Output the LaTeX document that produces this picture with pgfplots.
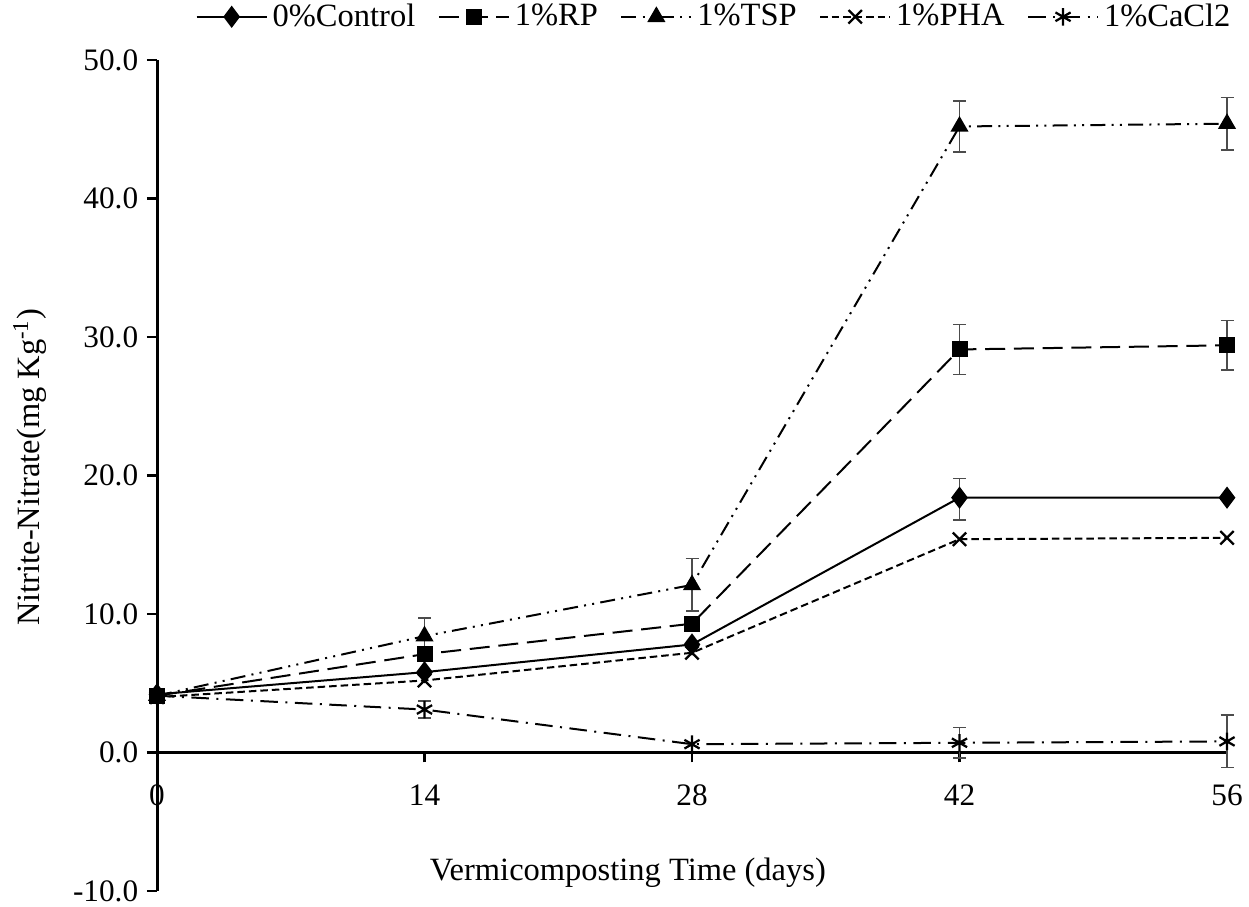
\documentclass[border=0pt]{standalone}
\usepackage{fontspec}
\setmainfont{Liberation Serif}
\usepackage{pgfplots}
\pgfplotsset{compat=1.18}
\usepackage{pgfplotstable}

\pgfplotstableread{
x y
0 4.2
14 5.8
28 7.8
42 18.4
56 18.4
}\control
\pgfplotstableread{
x y
0 4.1
14 7.1
28 9.3
42 29.1
56 29.4
}\rp
\pgfplotstableread{
x y
0 4.1
14 8.4
28 12.1
42 45.2
56 45.4
}\tsp
\pgfplotstableread{
x y
0 4.0
14 5.2
28 7.2
42 15.4
56 15.5
}\pha
\pgfplotstableread{
x y
0 4.1
14 3.1
28 0.6
42 0.7
56 0.8
}\cacl
\pgfplotstableread{
x y e
42 18.3 1.5
42 29.1 1.8
56 29.4 1.8
14 8.4 1.3
28 12.1 1.9
42 45.2 1.85
56 45.4 1.9
14 3.1 0.6
42 0.7 1.1
56 0.8 1.9
}\errs

\begin{document}
\begin{tikzpicture}[font=\fontsize{13}{15}\selectfont]
\begin{axis}[
  scale only axis, width=428pt, height=332.4pt,
  xmin=0, xmax=56, ymin=-10, ymax=50,
  axis lines=middle,
  axis line style={-, line width=1.2pt, black},
  clip=false,
  hide obscured x ticks=false, hide obscured y ticks=false,
  xtick={0,14,28,42,56}, ytick={-10,0,10,20,30,40,50},
  tick align=outside, major tick length=4pt,
  tick style={line width=1pt, black},
  /pgf/number format/assume math mode=true,
  tick label style={font=\fontsize{12.5}{14}\selectfont},
  yticklabel style={/pgf/number format/.cd, fixed, fixed zerofill, precision=1},
  xticklabel style={yshift=-5.5pt},
  xlabel={Vermicomposting Time (days)},
  ylabel={Nitrite-Nitrate(mg Kg\textsuperscript{-1})},
  xlabel style={at={(axis description cs:0.44,0.022)}, anchor=center},
  ylabel style={at={(axis description cs:-0.119,0.51)}, anchor=center, rotate=90},
  legend columns=5,
  legend style={at={(0.522,1.052)}, anchor=center, draw=none, fill=none,
    font=\fontsize{13}{15}\selectfont,
    /tikz/every even column/.append style={column sep=7pt}},
  legend image code/.code={\draw[mark repeat=2,mark phase=2,#1] plot coordinates {(0pt,0pt) (14pt,0pt) (28pt,0pt)};},
  every axis plot/.append style={line width=0.8pt, black},
]
\coordinate (sw) at (axis cs:0,-10);
\addplot[draw=none, forget plot, error bars/.cd, y dir=both, y explicit,
  error bar style={draw=black!70, line width=0.6pt, solid},
  error mark options={rotate=90, mark size=2.6pt, draw=black!70, line width=0.6pt, solid}]
  table[x=x, y=y, y error=e] {\errs};
\addplot[solid, mark=diamond*, mark size=3.8pt, mark options={solid, fill=black}] table[x=x,y=y] {\control};
\addlegendentry{0\%Control}
\addplot[dash pattern=on 8pt off 3.5pt, mark=square*, mark size=2.8pt, mark options={solid, fill=black}] table[x=x,y=y] {\rp};
\addlegendentry{1\%RP}
\addplot[dash pattern=on 6pt off 2.5pt on 0.8pt off 2.5pt on 0.8pt off 2.5pt, mark=triangle*, mark size=3.4pt, mark options={solid, fill=black}] table[x=x,y=y] {\tsp};
\addlegendentry{1\%TSP}
\addplot[dash pattern=on 3pt off 1.6pt, mark=x, mark size=3.8pt, mark options={solid, line width=0.9pt}] table[x=x,y=y] {\pha};
\addlegendentry{1\%PHA}
\addplot[dash pattern=on 7pt off 3pt on 0.8pt off 3pt, mark=asterisk, mark size=3.5pt, mark options={solid, line width=0.9pt}] table[x=x,y=y] {\cacl};
\addlegendentry{1\%CaCl2}
\end{axis}
\pgfresetboundingbox
\path[use as bounding box] ([shift={(-62.8pt,-6.4pt)}]sw) rectangle ++(499.6pt,362.8pt);
\end{tikzpicture}
\end{document}
